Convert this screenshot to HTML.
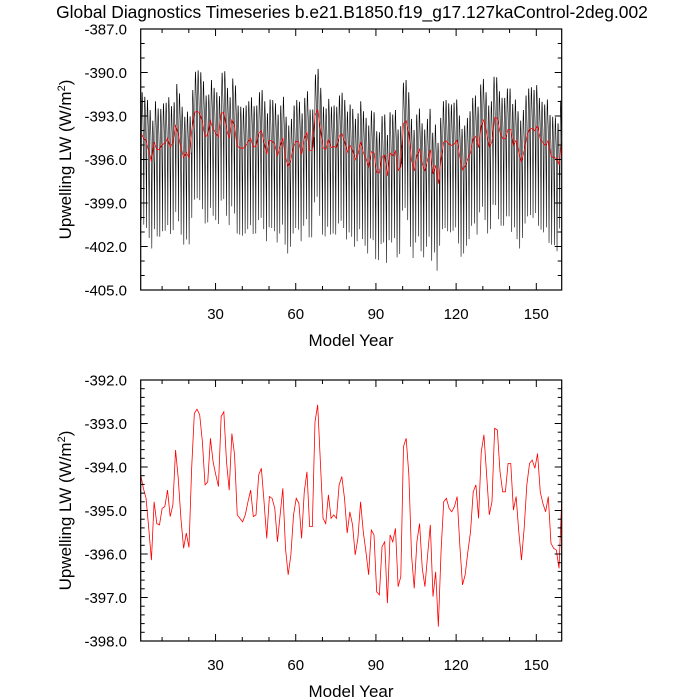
<!DOCTYPE html>
<html><head><meta charset="utf-8"><style>
body{margin:0;background:#fff;}
svg{display:block;font-family:"Liberation Sans",sans-serif;}
</style></head><body>
<svg id="chart" width="700" height="700" viewBox="0 0 700 700" xmlns="http://www.w3.org/2000/svg">
<text x="352" y="18" font-size="17.4" text-anchor="middle">Global Diagnostics Timeseries b.e21.B1850.f19_g17.127kaControl-2deg.002</text>
<g id="top"></g>
<g id="bot"></g>
</svg>
<script>
const annual = [-394.18,-394.49,-394.72,-395.41,-396.14,-394.80,-395.30,-395.33,-394.95,-394.91,-394.53,-395.14,-394.87,-393.61,-394.26,-395.18,-395.87,-395.52,-395.85,-394.03,-392.77,-392.67,-392.80,-393.42,-394.41,-394.34,-393.34,-393.88,-394.18,-394.45,-392.84,-392.73,-393.88,-394.53,-393.23,-393.72,-395.10,-395.18,-395.26,-395.10,-394.80,-394.53,-395.14,-395.10,-394.18,-394.03,-394.80,-395.64,-394.68,-394.72,-394.95,-395.72,-395.10,-394.49,-395.87,
-396.48,-396.02,-395.10,-394.72,-394.84,-395.64,-394.57,-394.11,-395.37,-395.37,-392.96,-392.57,-393.88,-395.18,-395.30,-394.64,-395.18,-395.10,-395.18,-394.41,-394.22,-394.72,-395.52,-395.03,-395.33,-396.02,-395.64,-394.80,-395.49,-395.95,-396.48,-395.45,-395.56,-396.87,-396.94,-395.83,-395.72,-397.13,-395.56,-395.72,-395.41,-396.75,-396.52,-393.53,-393.34,-394.18,-396.02,-396.79,-395.72,-395.30,-396.33,-396.75,-396.02,-395.33,
-396.98,-396.41,-397.67,-395.95,-394.80,-394.72,-394.95,-395.03,-394.91,-394.68,-395.79,-396.71,-396.48,-395.95,-395.49,-394.57,-394.41,-395.18,-393.65,-393.26,-394.18,-395.10,-394.80,-393.11,-393.15,-394.11,-394.57,-394.57,-393.92,-393.92,-394.99,-394.68,-395.49,-396.14,-395.41,-394.41,-393.92,-393.84,-394.03,-393.69,-394.57,-394.84,-395.03,-394.68,-395.75,-395.87,-395.91,-396.33,-394.76];
const seasonal = [-1.5,-3.0,-6.0,-2.5,0.5,2.0,2.8,2.8,2.2,1.5,1.0,0.2];
const xTicks = [30,60,90,120,150];
const topYTicks = [-387,-390,-393,-396,-399,-402,-405];
const botYTicks = [-392,-393,-394,-395,-396,-397,-398];
const yearStart = 2, yearEnd = 159.5;

const NS="http://www.w3.org/2000/svg";
function mk(tag, attrs, parent){const e=document.createElementNS(NS,tag);for(const k in attrs)e.setAttribute(k,attrs[k]);parent.appendChild(e);return e;}
const L=140.7,R=561.7;
function xs(yr){return L+(yr-yearStart)/(yearEnd-yearStart)*(R-L);}

function panel(g, top, bottom, ymax, ymin, yticks, minorStep, lines){
  const ys=v=>top+(ymax-v)/(ymax-ymin)*(bottom-top);
  lines(ys);
  const box=mk('rect',{x:L,y:top,width:R-L,height:bottom-top,fill:'none',stroke:'#000','stroke-width':1.2},g);
  
  
  for(let yr=10;yr<=yearEnd;yr+=10){
    const x=xs(yr); const major=xTicks.includes(yr); const len=major?7:4;
    mk('line',{x1:x,x2:x,y1:bottom,y2:bottom-len,stroke:'#000'},g);
    mk('line',{x1:x,x2:x,y1:top,y2:top+len,stroke:'#000'},g);
  }
  xTicks.forEach(t=>{const tx=mk('text',{x:xs(t),y:bottom+29,'font-size':15,'text-anchor':'middle'},g);tx.textContent=t;
    
    });
  const n=Math.round((ymax-ymin)/minorStep);
  for(let i=0;i<=n;i++){const v=ymax-i*minorStep;const y=ys(v);
    const major=yticks.some(t=>Math.abs(t-v)<1e-6);const len=major?7:4;
    mk('line',{x1:L,x2:L+len,y1:y,y2:y,stroke:'#000'},g);
    mk('line',{x1:R,x2:R-len,y1:y,y2:y,stroke:'#000'},g);}
  yticks.forEach(t=>{const tx=mk('text',{x:127,y:ys(t)+5.5,'font-size':15,'text-anchor':'end'},g);tx.textContent=t.toFixed(1);
    
    });
  const xt=mk('text',{x:351,y:bottom+56,'font-size':17,'text-anchor':'middle'},g);xt.textContent='Model Year';
  
  
  const cy=(top+bottom)/2;
  const yt=mk('text',{x:71,y:cy,'font-size':17,'text-anchor':'middle',transform:`rotate(-90 71 ${cy})`},g);
  yt.innerHTML='Upwelling LW (W/m<tspan dy="-6" font-size="11">2</tspan><tspan dy="6">)</tspan>';
  
  
}
function annualPath(ys){return annual.map((v,i)=>(i?'L':'M')+xs(yearStart+i*(yearEnd-yearStart)/(annual.length-1)).toFixed(2)+' '+ys(v).toFixed(2)).join('');}

const gTop=document.getElementById('top');
panel(gTop,29,290,-387,-405,topYTicks,1,ys=>{
  let d='';const N=annual.length*12;
  annual.forEach((a,i)=>seasonal.forEach((s,m)=>{const k=i*12+m;
    const x=xs(yearStart+k*(yearEnd-yearStart)/(N-1));
    d+=(k?'L':'M')+x.toFixed(2)+' '+ys(a+s).toFixed(2);}));
  const p=mk('path',{d:d,fill:'none',stroke:'#000','stroke-width':0.6},gTop);
  
  
  const r=mk('path',{d:annualPath(ys),fill:'none',stroke:'#f00','stroke-width':0.8},gTop);
  
  
});
const gBot=document.getElementById('bot');
panel(gBot,380,641,-392,-398,botYTicks,0.2,ys=>{
  const r=mk('path',{d:annualPath(ys),fill:'none',stroke:'#f00','stroke-width':0.8},gBot);
  
  
});
</script>
</body></html>
